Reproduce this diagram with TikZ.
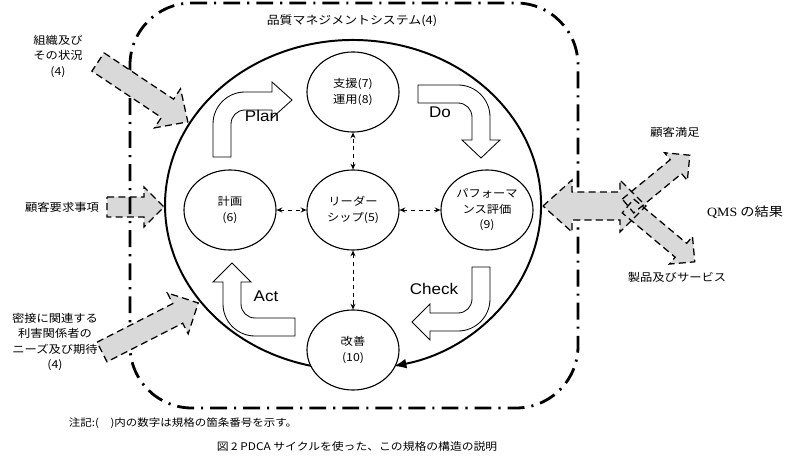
\documentclass[tikz,border=0pt]{standalone}
\usepackage{fontspec}
\setmainfont{Liberation Sans}[FakeStretch=1.1]
\newfontfamily\jpfont{Noto Sans CJK JP}[FakeStretch=1.12]
\newfontfamily\qmsfont{Liberation Serif}[FakeStretch=1.1]
\usetikzlibrary{arrows.meta, shapes.geometric}

\newcommand\jplabel{\jpfont\fontsize{7.8}{11}\selectfont}

% wide arrow: [style]{tail}{angle}{length}{half shaft}{half head}{head length}
\newcommand\grayarrow[7][grayarr]{%
  \begin{scope}[shift={#2}, rotate=#3]
    \path[#1] (0,-#5) -- ({#4-#7},-#5) -- ({#4-#7},-#6) -- (#4,0)
      -- ({#4-#7},#6) -- ({#4-#7},#5) -- (0,#5) -- cycle;
  \end{scope}}

\begin{document}
\begin{tikzpicture}[x=0.025cm, y=-0.025cm,
  qmsframe/.style={line width=2pt, dash pattern=on 12pt off 5pt on 1.5pt off 5pt},
  grayfill/.style={fill=black!15},
  grayline/.style={draw, line width=0.9pt, dash pattern=on 5pt off 3pt},
  grayarr/.style={grayfill, grayline},
  proc/.style={draw, ellipse, line width=0.8pt, fill=white, minimum width=2.3cm,
    minimum height=2cm, inner sep=0pt, align=center, font=\jplabel},
  pdcaring/.style={line width=1.4pt},
  bentarrow/.style={draw, fill=white, line width=0.6pt},
  phase/.style={font=\fontsize{11}{13}\selectfont},
  jp/.style={align=center, font=\jplabel},
  link/.style={line width=0.6pt, dash pattern=on 3pt off 2.5pt,
    {Stealth[length=4pt,width=3.5pt]}-{Stealth[length=4pt,width=3.5pt]}}]

  \useasboundingbox (0,0) rectangle (800,471);

  % inputs and frame
  \grayarrow{(107,207)}{0}{57}{10}{20}{20}
  \draw[qmsframe, rounded corners=1.55cm] (130,3) rectangle (578,408);
  \grayarrow{(98,62)}{-33.7}{108}{11}{23.5}{24.5}
  \grayarrow{(102,352)}{27}{108}{11}{23}{23}

  % outputs
  \path[grayfill] (543,206) -- (572,180) -- (572,192) -- (620,192) -- (620,180) -- (646,206)
    -- (620,232) -- (620,220) -- (572,220) -- (572,232) -- cycle;
  \grayarrow[grayfill]{(628,206)}{39.4}{80}{9}{18}{18}
  \grayarrow[grayfill]{(628,206)}{-39.9}{87}{9}{18}{18}
  \draw[grayline] (543,206) -- (572,180) -- (572,192) -- (620,192) -- (620,180) -- (646,206)
    -- (620,232) -- (620,220) -- (572,220) -- (572,232) -- cycle;
  \grayarrow[grayline]{(628,206)}{39.4}{80}{9}{18}{18}
  \grayarrow[grayline]{(628,206)}{-39.9}{87}{9}{18}{18}

  % PDCA cycle
  \draw[pdcaring, -{Latex[length=9pt,width=7pt]}] (320.4,367.5)
    arc[start angle=100, end angle=437.5, x radius=188, y radius=165];

  \node[proc] (supp) at (353,92) {支援(7)\\運用(8)};
  \node[proc] (plan) at (230,210) {計画\\(6)};
  \node[proc] (lead) at (353,210) {リーダー\\シップ(5)};
  \node[proc] (perf) at (487,210) {パフォーマ\\ンス評価\\(9)};
  \node[proc] (impr) at (353,350) {改善\\(10)};

  \draw[link] (plan) -- (lead);
  \draw[link] (lead) -- (perf);
  \draw[link] (lead) -- (supp);
  \draw[link] (lead) -- (impr);

  % bent arrows
  \path[bentarrow] (213,157) -- (213,124) arc[start angle=180, end angle=270, radius=32]
    -- (272,92) -- (272,82) -- (292,100) -- (272,118) -- (272,110) -- (245,110)
    arc[start angle=270, end angle=180, radius=14] -- (231,157) -- cycle;
  \path[bentarrow] (418,85) -- (458,85) arc[start angle=270, end angle=360, radius=32]
    -- (490,140) -- (500,140) -- (481,158) -- (462,140) -- (472,140) -- (472,117)
    arc[start angle=0, end angle=-90, radius=14] -- (418,103) -- cycle;
  \path[bentarrow] (472,267) -- (490,267) -- (490,299) arc[start angle=0, end angle=90, radius=32]
    -- (430,331) -- (430,340) -- (412,322) -- (430,304) -- (430,313) -- (458,313)
    arc[start angle=90, end angle=0, radius=14] -- cycle;
  \path[bentarrow] (295,318) -- (295,336) -- (255,336) arc[start angle=90, end angle=180, radius=32]
    -- (223,282) -- (213,282) -- (232,263) -- (251,282) -- (241,282) -- (241,304)
    arc[start angle=180, end angle=90, radius=14] -- cycle;

  \node[phase] (plantxt) at (262,116) {Plan};
  \node[phase] (dotxt) at (440,112) {Do};
  \node[phase] (checktxt) at (434,289) {Check};
  \node[phase] (acttxt) at (266,296) {Act};

  % labels
  \node[font=\jpfont\fontsize{8.2}{11}\selectfont] (qms) at (352,21) {品質マネジメントシステム(4)};
  \node[jp] (ctx) at (58,56) {組織及び\\その状況\\(4)};
  \node[jp] (req) at (62,207) {顧客要求事項};
  \node[jp] (party) at (55,342) {密接に関連する\\利害関係者の\\ニーズ及び期待\\(4)};
  \node[jp] (sat) at (675,132) {顧客満足};
  \node[font=\jpfont\fontsize{9}{11}\selectfont] (res) at (745,212) {{\qmsfont QMS} の結果};
  \node[jp] (prod) at (677,277) {製品及びサービス};
  \node[anchor=west, font=\jpfont\fontsize{7.3}{9}\selectfont] (note) at (64,423)
    {注記:(　)内の数字は規格の箇条番号を示す。};
  \node[font=\jpfont\fontsize{7.5}{9}\selectfont] (capt) at (357,447)
    {図 2 PDCA サイクルを使った、この規格の構造の説明};

\end{tikzpicture}
\end{document}
